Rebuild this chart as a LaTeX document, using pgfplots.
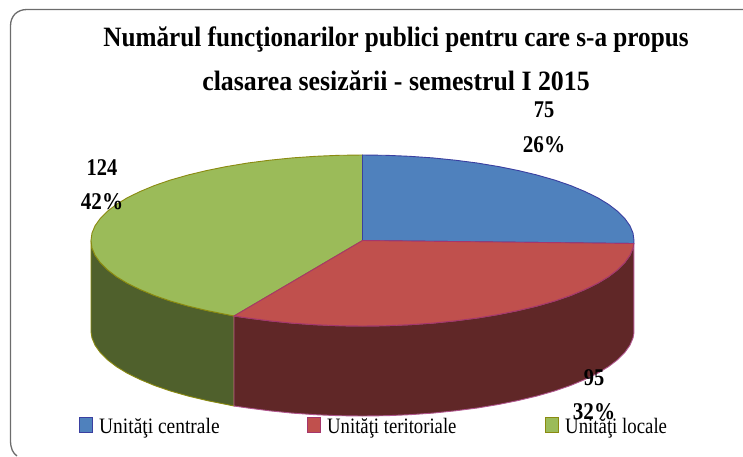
\documentclass[border=0pt]{standalone}
\usepackage{fontspec}
\setmainfont{Liberation Serif}
\usepackage{pgfplots}
\pgfplotsset{compat=1.18}
\definecolor{blueF}{HTML}{4F81BD}
\definecolor{blueL}{HTML}{3A3FA0}
\definecolor{redF}{HTML}{C0504D}
\definecolor{redL}{HTML}{A5366C}
\definecolor{redW}{HTML}{602727}
\definecolor{redE}{HTML}{B0568E}
\definecolor{greenF}{HTML}{9BBB59}
\definecolor{greenL}{HTML}{8A8A10}
\definecolor{greenW}{HTML}{4F602C}
\newcommand{\lab}[2]{\fontsize{24}{24}\selectfont\bfseries\scalebox{#1}[1]{#2}}
\newcommand{\leg}[2]{\fontsize{22}{22}\selectfont\scalebox{#1}[1]{#2}}
\newcommand{\ttl}[2]{\fontsize{28}{28}\selectfont\bfseries\scalebox{#1}[1]{#2}}
\begin{document}
\begin{tikzpicture}[x=1pt,y=1pt]
\begin{axis}[
  scale only axis, width=743pt, height=456pt,
  xmin=0, xmax=743, ymin=0, ymax=456, y dir=reverse,
  hide axis, clip=true,
]
\path (axis cs:0,0) rectangle (axis cs:743,456);
% frame
\draw[draw=gray!85!black, line width=1.3pt]
  (axis cs:743,9.5) -- (axis cs:27,9.5) .. controls (axis cs:17,9.5) and (axis cs:10.5,16) .. (axis cs:10.5,26)
  -- (axis cs:10.5,440) .. controls (axis cs:10.5,449) and (axis cs:13,453) .. (axis cs:17,456);
% green wall
\addplot[fill=greenW, draw=greenL, line width=0.9pt] coordinates {
 (234,316) (226.7,314.5) (206.8,310.5) (188,306) (170.5,301) (154.5,295.5) (140.1,289.5) (127.4,283.3) (116.4,276.6) (107.4,269.7) (100.3,262.6) (95.1,255.3) (92,248) (91,240.5)
 (91,332) (92,338) (95.1,345.3) (100.3,352.6) (107.4,359.7) (116.4,366.6) (127.4,373.3) (140.1,379.5) (154.5,385.5) (170.5,391) (188,396) (206.8,400.5) (226.7,404.5) (234,406)
} --cycle;
% red wall
\addplot[fill=redW, draw=redE, line width=0.9pt] coordinates {
 (633.8,243.5) (633,248) (629.9,255.3) (624.7,262.6) (617.6,269.7) (608.6,276.6) (597.6,283.3) (584.9,289.5) (570.5,295.5) (554.5,301) (537,306) (518.2,310.5) (498.3,314.5) (477.2,318) (455.4,320.8) (432.8,323.1) (409.6,324.7) (386.2,325.7) (362.5,326) (338.8,325.7) (315.4,324.7) (292.2,323.1) (269.6,320.8) (247.8,318) (234,316)
 (234,406) (247.8,408) (269.6,410.8) (292.2,413.1) (315.4,414.7) (338.8,415.7) (362.5,416) (386.2,415.7) (409.6,414.7) (432.8,413.1) (455.4,410.8) (477.2,408) (498.3,404.5) (518.2,400.5) (537,396) (554.5,391) (570.5,385.5) (584.9,379.5) (597.6,373.3) (608.6,366.6) (617.6,359.7) (624.7,352.6) (629.9,345.3) (633,338) (633.8,333.5)
} --cycle;
% green top
\addplot[fill=greenF, draw=greenL, line width=0.9pt] coordinates {
 (362.5,240.5) (234,316) (226.7,314.5) (206.8,310.5) (188,306) (170.5,301) (154.5,295.5) (140.1,289.5) (127.4,283.3) (116.4,276.6) (107.4,269.7) (100.3,262.6) (95.1,255.3) (92,248) (91,240.5) (92,233) (95.1,225.7) (100.3,218.4) (107.4,211.3) (116.4,204.4) (127.4,197.7) (140.1,191.5) (154.5,185.5) (170.5,180) (188,175) (206.8,170.5) (226.7,166.5) (247.8,163) (269.6,160.2) (292.2,157.9) (315.4,156.3) (338.8,155.3) (362.5,155)
} --cycle;
% blue top
\addplot[fill=blueF, draw=blueL, line width=0.9pt] coordinates {
 (362.5,240.5) (362.5,155) (386.2,155.3) (409.6,156.3) (432.8,157.9) (455.4,160.2) (477.2,163) (498.3,166.5) (518.2,170.5) (537,175) (554.5,180) (570.5,185.5) (584.9,191.5) (597.6,197.7) (608.6,204.4) (617.6,211.3) (624.7,218.4) (629.9,225.7) (633,233) (634,240.5) (633.8,243.5)
} --cycle;
% red top
\addplot[fill=redF, draw=redL, line width=0.9pt] coordinates {
 (362.5,240.5) (633.8,243.5) (633,248) (629.9,255.3) (624.7,262.6) (617.6,269.7) (608.6,276.6) (597.6,283.3) (584.9,289.5) (570.5,295.5) (554.5,301) (537,306) (518.2,310.5) (498.3,314.5) (477.2,318) (455.4,320.8) (432.8,323.1) (409.6,324.7) (386.2,325.7) (362.5,326) (338.8,325.7) (315.4,324.7) (292.2,323.1) (269.6,320.8) (247.8,318) (234,316)
} --cycle;
% legend keys
\addplot[fill=blueF, draw=blueL, line width=0.9pt] coordinates {(79.5,417.5) (92,417.5) (92,432) (79.5,432)} --cycle;
\addplot[fill=redF, draw=redL, line width=0.9pt] coordinates {(307.5,417.5) (320,417.5) (320,432) (307.5,432)} --cycle;
\addplot[fill=greenF, draw=greenL, line width=0.9pt] coordinates {(545.5,417.5) (558,417.5) (558,432) (545.5,432)} --cycle;
% title
\node[inner sep=0pt] at (axis cs:396,40) {\ttl{0.899}{Numărul funcţionarilor publici pentru care s-a propus}};
\node[inner sep=0pt] at (axis cs:396,81) {\ttl{0.922}{clasarea sesizării - semestrul I 2015}};
% data labels
\node[inner sep=0pt] at (axis cs:102,168) {\lab{0.85}{124}};
\node[inner sep=0pt] at (axis cs:102,202) {\lab{0.88}{42\%}};
\node[inner sep=0pt] at (axis cs:544,110) {\lab{0.85}{75}};
\node[inner sep=0pt] at (axis cs:544,145) {\lab{0.88}{26\%}};
\node[inner sep=0pt] at (axis cs:594,378) {\lab{0.85}{95}};
\node[inner sep=0pt] at (axis cs:594,412) {\lab{0.88}{32\%}};
% legend text
\node[inner sep=0pt, anchor=base west] at (axis cs:99,433) {\leg{0.884}{Unităţi centrale}};
\node[inner sep=0pt, anchor=base west] at (axis cs:327,433) {\leg{0.85}{Unităţi teritoriale}};
\node[inner sep=0pt, anchor=base west] at (axis cs:565,433) {\leg{0.855}{Unităţi locale}};
\end{axis}
\end{tikzpicture}
\end{document}
